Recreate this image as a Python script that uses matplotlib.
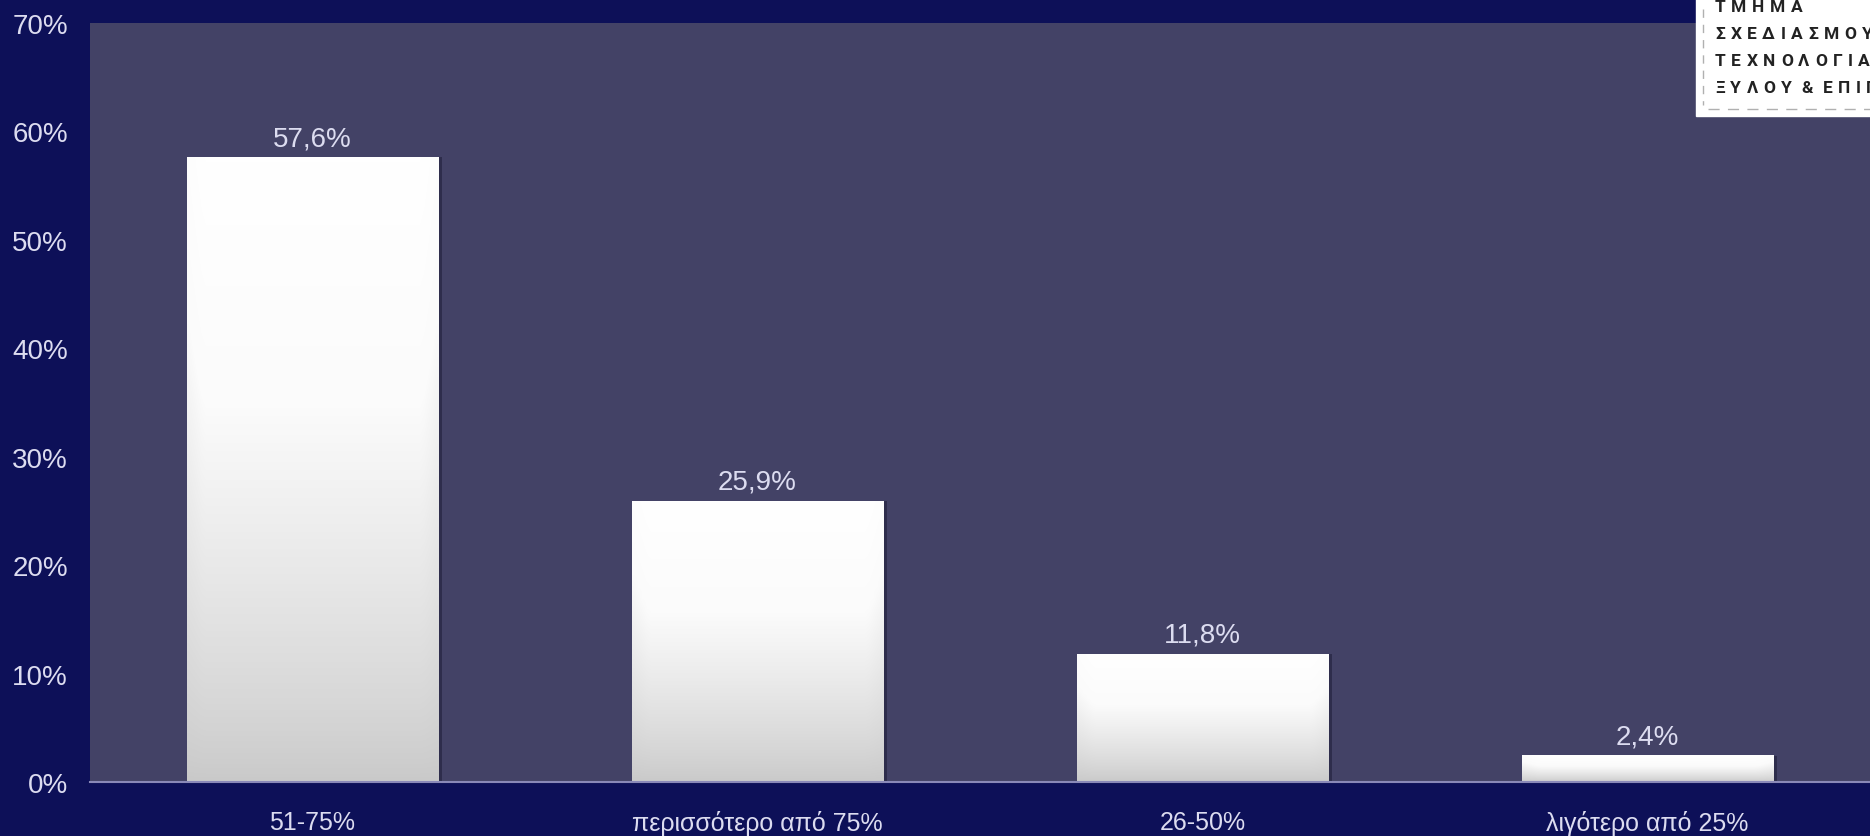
import numpy as np
import matplotlib
matplotlib.use("Agg")
import matplotlib.pyplot as plt
from matplotlib.colors import LinearSegmentedColormap

categories = ["51-75%", "περισσότερο από 75%", "26-50%", "λιγότερο από 25%"]
values = [57.6, 25.9, 11.8, 2.4]
value_labels = ["57,6%", "25,9%", "11,8%", "2,4%"]
y_ticks = [0, 10, 20, 30, 40, 50, 60, 70]
y_tick_labels = ["0%", "10%", "20%", "30%", "40%", "50%", "60%", "70%"]
logo_lines = ["ΤΜΗΜΑ", "ΣΧΕΔΙΑΣΜΟΥ", "ΤΕΧΝΟΛΟΓΙΑΣ", "ΞΥΛΟΥ & ΕΠΙΠΛΟΥ"]

outer_bg = "#0d1058"
plot_bg = "#434266"
text_col = "#dcdcf0"

plt.rcParams["font.family"] = ["Liberation Sans", "DejaVu Sans"]

fig = plt.figure(figsize=(18.7, 8.37), dpi=100, facecolor=outer_bg)
W, H = 1870, 837
ax = fig.add_axes([90 / W, 1 - 783 / H, 1780 / W, (783 - 24) / H])
ax.set_facecolor(plot_bg)

x = np.arange(len(categories))
bar_w = 0.566
bars = ax.bar(x, values, width=bar_w, color="none", edgecolor="none", zorder=2)

# vertical white-to-grey gradient with slightly darker side edges
cmap = LinearSegmentedColormap.from_list("barfill", ["#c9c9c9", "#e2e2e2", "#fbfbfb", "#ffffff"])
ny, nx = 200, 60
gy = np.linspace(0, 1, ny)[:, None]
gx = np.linspace(0, 1, nx)[None, :]
edge = np.clip(np.minimum(gx, 1 - gx) / 0.06, 0, 1)
for b in bars:
    bx, by, bw, bh = b.get_x(), b.get_y(), b.get_width(), b.get_height()
    grad = gy ** 0.8 * (0.85 + 0.15 * edge)
    # shadow on the right side
    ax.add_patch(plt.Rectangle((bx + bw, by), 0.008, bh, color="#2e2d4c", zorder=1.5, lw=0))
    ax.imshow(grad, cmap=cmap, vmin=0, vmax=1, aspect="auto", origin="lower",
              extent=(bx, bx + bw, by, by + bh), zorder=2, interpolation="bilinear")

for xi, v, lab in zip(x, values, value_labels):
    ax.annotate(lab, (xi, v), xytext=(0, 4.5), textcoords="offset points",
                ha="center", va="bottom", color=text_col, fontsize=20)

ax.set_xlim(-0.5, len(categories) - 0.5)
ax.set_ylim(0, 70)
ax.set_yticks(y_ticks)
ax.set_yticklabels(y_tick_labels, color=text_col, fontsize=20)
ax.set_xticks(x)
ax.set_xticklabels(categories, color=text_col, fontsize=18)
ax.tick_params(axis="both", length=0)
ax.tick_params(axis="y", pad=16)
ax.tick_params(axis="x", pad=20)
for s in ["top", "right", "left"]:
    ax.spines[s].set_visible(False)
ax.spines["bottom"].set_color("#8a89b8")
ax.spines["bottom"].set_linewidth(1.5)

# department logo box in the top-right corner (runs off the figure edge)
LW = W - 1696
logo = fig.add_axes([1696 / W, 1 - 117 / H, LW / W, 117 / H])
logo.set_xlim(0, LW)
logo.set_ylim(117, 0)
logo.axis("off")
logo.add_patch(plt.Rectangle((0, 0), LW, 117, color="white", zorder=0, clip_on=False))
renderer = fig.canvas.get_renderer()
for i, line in enumerate(logo_lines):
    cx = 19.0
    cy = 7 + i * 27.3
    for ch in line:
        if ch == " ":
            cx += 4
            continue
        t = logo.text(cx, cy, ch, fontsize=12.5, fontweight="bold", color="#222222",
                      va="center", ha="left", family=["Roboto", "DejaVu Sans"])
        t.set_clip_on(True)
        cx += t.get_window_extent(renderer).width + 5.5
logo.plot([7, 7], [10, 106], color="#b0b0b0", lw=1, ls=(0, (6, 5)))
logo.plot([12, LW], [110, 110], color="#b0b0b0", lw=1, ls=(0, (8, 6)))

fig.savefig("out.png", dpi=100, facecolor=outer_bg)
